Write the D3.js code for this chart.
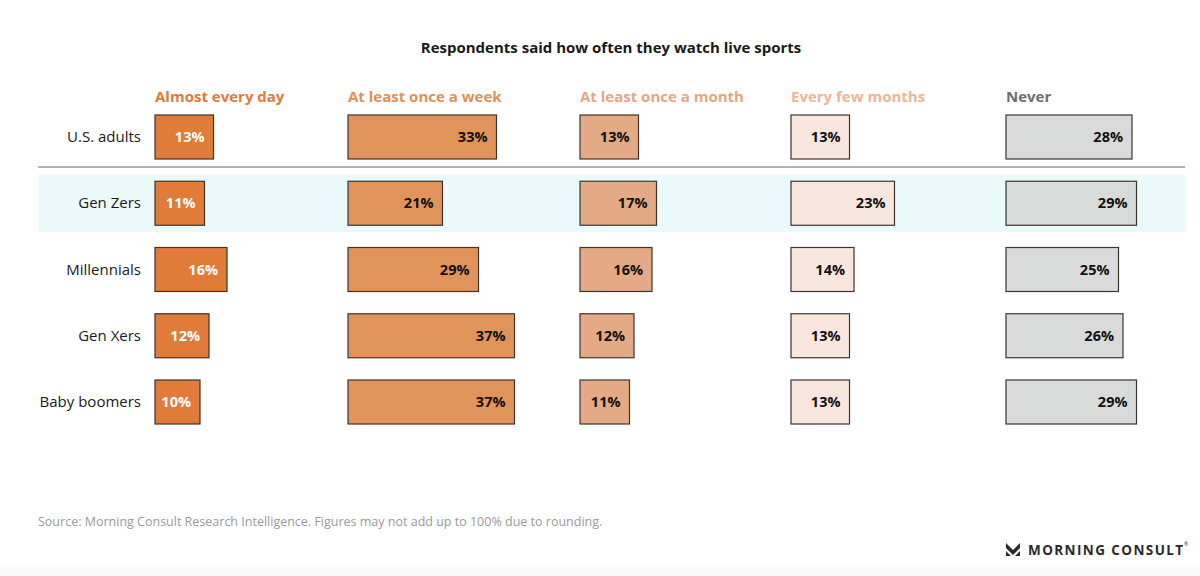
<!DOCTYPE html>
<html>
<head>
<meta charset="utf-8">
<script src="https://cdn.jsdelivr.net/npm/d3@7"></script>
<style>
  body { margin: 0; background: #fff; }
  svg { display: block; font-family: "Open Sans", Lato, sans-serif; }
</style>
</head>
<body>
<script>
// data
var groups = ["U.S. adults", "Gen Zers", "Millennials", "Gen Xers", "Baby boomers"];
var answers = ["Almost every day", "At least once a week", "At least once a month", "Every few months", "Never"];
var almostDaily = [13, 11, 16, 12, 10];
var weekly = [33, 21, 29, 37, 37];
var monthly = [13, 17, 16, 12, 11];
var fewMonths = [13, 23, 14, 13, 13];
var never = [28, 29, 25, 26, 29];
var seriesValues = [almostDaily, weekly, monthly, fewMonths, never];

var width = 1200, height = 576;
var fills = ["#e07b39", "#e0945b", "#e3aa85", "#f9e7dd", "#d9dada"];
var headColors = ["#e07b39", "#e28f53", "#e6a77e", "#ebb694", "#6e6e6e"];
var labelColors = ["#fff", "#111", "#111", "#111", "#111"];

var svg = d3.select("body").append("svg")
  .attr("width", width)
  .attr("height", height);

var colX = d3.scaleOrdinal().domain(answers).range([155, 348, 580, 791, 1006]);
var rowY = d3.scalePoint().domain(groups).range([137, 402]);
var w = d3.scaleLinear().domain([0, 100]).range([0, 450]);
var barH = 44;

// footer band
svg.append("rect").attr("x", 0).attr("y", 567).attr("width", width).attr("height", 9).attr("fill", "#f8f8f8");

// highlight band for Gen Zers
svg.append("rect")
  .attr("x", 38).attr("width", 1147)
  .attr("y", rowY("Gen Zers") - 29).attr("height", 58)
  .attr("fill", "#eafafb");

// separator under U.S. adults
svg.append("line")
  .attr("x1", 38).attr("x2", 1185)
  .attr("y1", 167).attr("y2", 167)
  .attr("stroke", "#666").attr("stroke-width", 1);

svg.append("text")
  .attr("x", 611).attr("y", 53)
  .attr("text-anchor", "middle")
  .attr("font-size", 15).attr("font-weight", 700)
  .attr("fill", "#1a1a1a")
  .text("Respondents said how often they watch live sports");

svg.selectAll(".head")
  .data(answers)
  .enter().append("text")
  .attr("class", "head")
  .attr("x", function(d) { return colX(d); })
  .attr("y", 102)
  .attr("font-size", 15).attr("font-weight", 700)
  .attr("fill", function(d, i) { return headColors[i]; })
  .text(function(d) { return d; });

svg.selectAll(".rowlab")
  .data(groups)
  .enter().append("text")
  .attr("class", "rowlab")
  .attr("x", 141)
  .attr("y", function(d) { return rowY(d) + 5; })
  .attr("text-anchor", "end")
  .attr("font-size", 15)
  .attr("fill", "#1a1a1a")
  .text(function(d) { return d; });

answers.forEach(function(a, j) {
  var g = svg.append("g");
  var vals = seriesValues[j];
  g.selectAll("rect")
    .data(vals)
    .enter().append("rect")
    .attr("x", colX(a))
    .attr("y", function(d, i) { return rowY(groups[i]) - barH / 2; })
    .attr("width", function(d) { return w(d); })
    .attr("height", barH)
    .attr("fill", fills[j])
    .attr("stroke", "#3d3430")
    .attr("stroke-width", 1.2);
  g.selectAll("text")
    .data(vals)
    .enter().append("text")
    .attr("x", function(d) { return colX(a) + w(d) - 9; })
    .attr("y", function(d, i) { return rowY(groups[i]) + 5; })
    .attr("text-anchor", "end")
    .attr("font-size", 14.5).attr("font-weight", 700)
    .attr("fill", labelColors[j])
    .text(function(d) { return d + "%"; });
});

svg.append("text")
  .attr("x", 38).attr("y", 526)
  .attr("font-size", 12.5)
  .attr("fill", "#9a9a9a")
  .text("Source: Morning Consult Research Intelligence. Figures may not add up to 100% due to rounding.");

// logo
var logo = svg.append("g").attr("transform", "translate(1006,543)");
logo.append("path")
  .attr("d", "M0,0 L7,7 L14,0 L14,5 L7,12 L0,5 Z M0,8 L5,13 L0,13 Z M14,8 L9,13 L14,13 Z")
  .attr("fill", "#2b2b2b");
logo.append("text")
  .attr("x", 22).attr("y", 12)
  .attr("font-size", 13.5).attr("font-weight", 700)
  .attr("letter-spacing", 1.4)
  .attr("fill", "#2b2b2b")
  .text("MORNING CONSULT");
logo.append("text")
  .attr("x", 178).attr("y", 3)
  .attr("font-size", 5).attr("fill", "#2b2b2b")
  .text("®");
</script>
</body>
</html>
